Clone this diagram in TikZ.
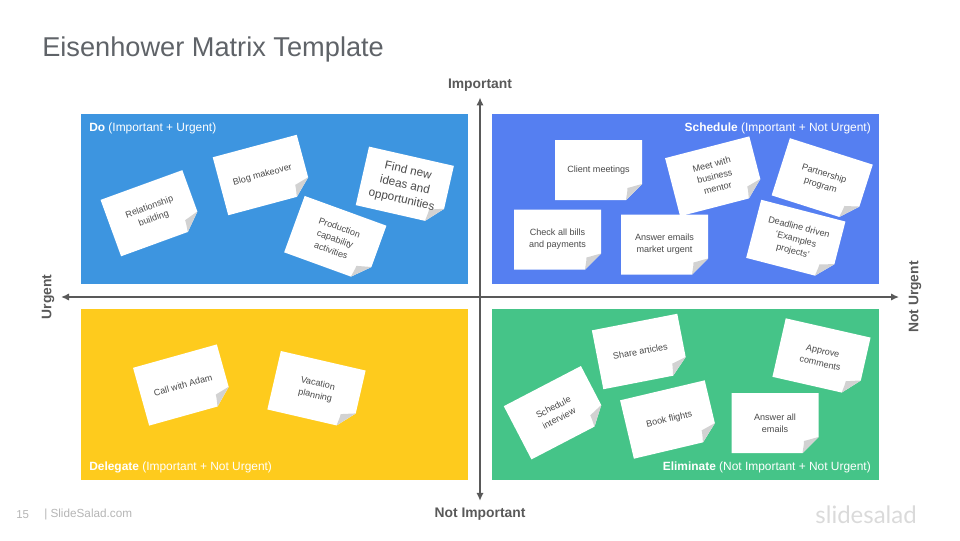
\documentclass[tikz,border=0pt]{standalone}
\usepackage{fontspec}
\setmainfont{Liberation Sans}
\newfontfamily\logofont{Lato}
\usetikzlibrary{arrows.meta, positioning}

\definecolor{doblue}{HTML}{3D95E0}
\definecolor{scheduleblue}{HTML}{557FF1}
\definecolor{delegateyellow}{HTML}{FECB1D}
\definecolor{eliminategreen}{HTML}{45C488}
\definecolor{axisgray}{HTML}{595959}
\definecolor{titlegray}{HTML}{5F6368}
\definecolor{notegray}{HTML}{4A4A4A}
\definecolor{foldgray}{HTML}{D2D2D2}
\definecolor{footgray}{HTML}{B5B5B5}
\definecolor{logogray}{HTML}{DADADA}

% one sticky note: [text style]{name}{centre}{angle}{text}
\newcommand{\stickynote}[5][]{
	\begin{scope}[shift={(#3)}, rotate=#4]
		\fill [white] (-43.5,-30) -- (43.5,-30) -- (43.5,14) -- (27.5,30) -- (-43.5,30) -- cycle;
		\fill [foldgray] (43.5,14) .. controls (36,16) and (33,17) .. (29,18) .. controls (29,22) and (28,26) .. (27.5,30) -- cycle;
		\node [notetext, transform shape, #1] (#2) at (0,0) {#5};
	\end{scope}
}

\begin{document}
\begin{tikzpicture}[
	x=0.75pt, y=-0.75pt,
	quadrant/.style={rectangle, draw=none, inner sep=0pt, minimum width=290.25pt, minimum height=127.5pt, anchor=north west},
	lowerquadrant/.style={quadrant, minimum height=128.25pt},
	notetext/.style={font=\fontsize{6.8}{9.2}\selectfont, text=notegray, align=center, inner sep=0pt},
	notebig/.style={font=\fontsize{8.8}{11.2}\selectfont},
	cornerlabel/.style={font=\fontsize{8.95}{11}\selectfont, text=white, inner sep=0pt},
	axislabel/.style={font=\fontsize{10.4}{12}\selectfont\bfseries, text=axisgray, inner sep=0pt},
	axisline/.style={draw=axisgray, line width=1.1pt, {Latex[length=6pt,width=5.5pt]}-{Latex[length=6pt,width=5.5pt]}},
	]
	\useasboundingbox (0,0) rectangle (960,540);
	
	\node [anchor=west, inner sep=0pt, text=titlegray, font=\fontsize{20.4}{24}\selectfont] (title) at (42,49) {Eisenhower Matrix Template};
	
	\node [quadrant, fill=doblue] (do) at (81,114) {};
	\node [quadrant, fill=scheduleblue] (schedule) at (492,114) {};
	\node [lowerquadrant, fill=delegateyellow] (delegate) at (81,309) {};
	\node [lowerquadrant, fill=eliminategreen] (eliminate) at (492,309) {};
	
	\node [cornerlabel, anchor=west] (dolabel) at (89,128) {\textbf{Do} (Important + Urgent)};
	\node [cornerlabel, anchor=east] (schedulelabel) at (871,128) {\textbf{Schedule} (Important + Not Urgent)};
	\node [cornerlabel, anchor=west] (delegatelabel) at (89,467) {\textbf{Delegate} (Important + Not Urgent)};
	\node [cornerlabel, anchor=east] (eliminatelabel) at (871,467) {\textbf{Eliminate} (Not Important + Not Urgent)};
	
	\stickynote{relationship}{151.7,213.2}{20}{Relationship\\building}
	\stickynote{blog}{262.5,175}{15}{Blog makeover}
	\stickynote[notebig]{findnew}{404.8,185.5}{-12.8}{Find new\\ideas and\\opportunities}
	\stickynote{production}{335.3,239}{-20}{Production\\capability\\activities}
	
	\stickynote{client}{598.5,170}{0}{Client meetings}
	\stickynote{meet}{714.7,176.3}{14.5}{Meet with\\business\\mentor}
	\stickynote{partnership}{822.2,180}{-17.7}{Partnership\\program}
	\stickynote{bills}{557.5,239.5}{0}{Check all bills\\and payments}
	\stickynote{emails}{664.5,244.5}{0}{Answer emails\\market urgent}
	\stickynote{deadline}{795.8,239.7}{-14.5}{Deadline driven\\`Examples\\projects'}
	
	\stickynote{call}{183,385}{15.6}{Call with Adam}
	\stickynote{vacation}{316.5,390}{-13}{Vacation\\planning}
	
	\stickynote{interview}{556.2,412.7}{27.5}{Schedule\\interview}
	\stickynote{share}{640.3,351.5}{11}{Share articles}
	\stickynote{book}{669.3,419.5}{13.3}{Book flights}
	\stickynote{answerall}{775,423}{0}{Answer all\\emails}
	\stickynote{approve}{821.5,357.2}{-12.8}{Approve\\comments}
	
	\node [axislabel] (important) at (480,85) {Important};
	\node [axislabel] (notimportant) at (480,514) {Not Important};
	\node [axislabel, rotate=90] (urgent) at (48,297) {Urgent};
	\node [axislabel, rotate=90] (noturgent) at (915,297) {Not Urgent};
	
	\coordinate [below=4.5pt of important] (axistop);
	\coordinate [above=5pt of notimportant] (axisbottom);
	\coordinate (axisleft) at (61,297);
	\coordinate (axisright) at (899,297);
	\draw [axisline] (axistop) -- (axisbottom);
	\draw [axisline] (axisleft) -- (axisright);
	
	\node [anchor=west, inner sep=0pt, text=footgray, font=\fontsize{8.6}{10}\selectfont] (pagenum) at (16,514.5) {15};
	\node [anchor=west, inner sep=0pt, text=footgray, font=\fontsize{8.8}{10}\selectfont] (footer) at (44,514.5) {| SlideSalad.com};
	\node [anchor=east, inner sep=0pt, text=logogray, font=\logofont\fontsize{18}{20}\selectfont] (logo) at (917,515) {slidesalad};
\end{tikzpicture}
\end{document}
